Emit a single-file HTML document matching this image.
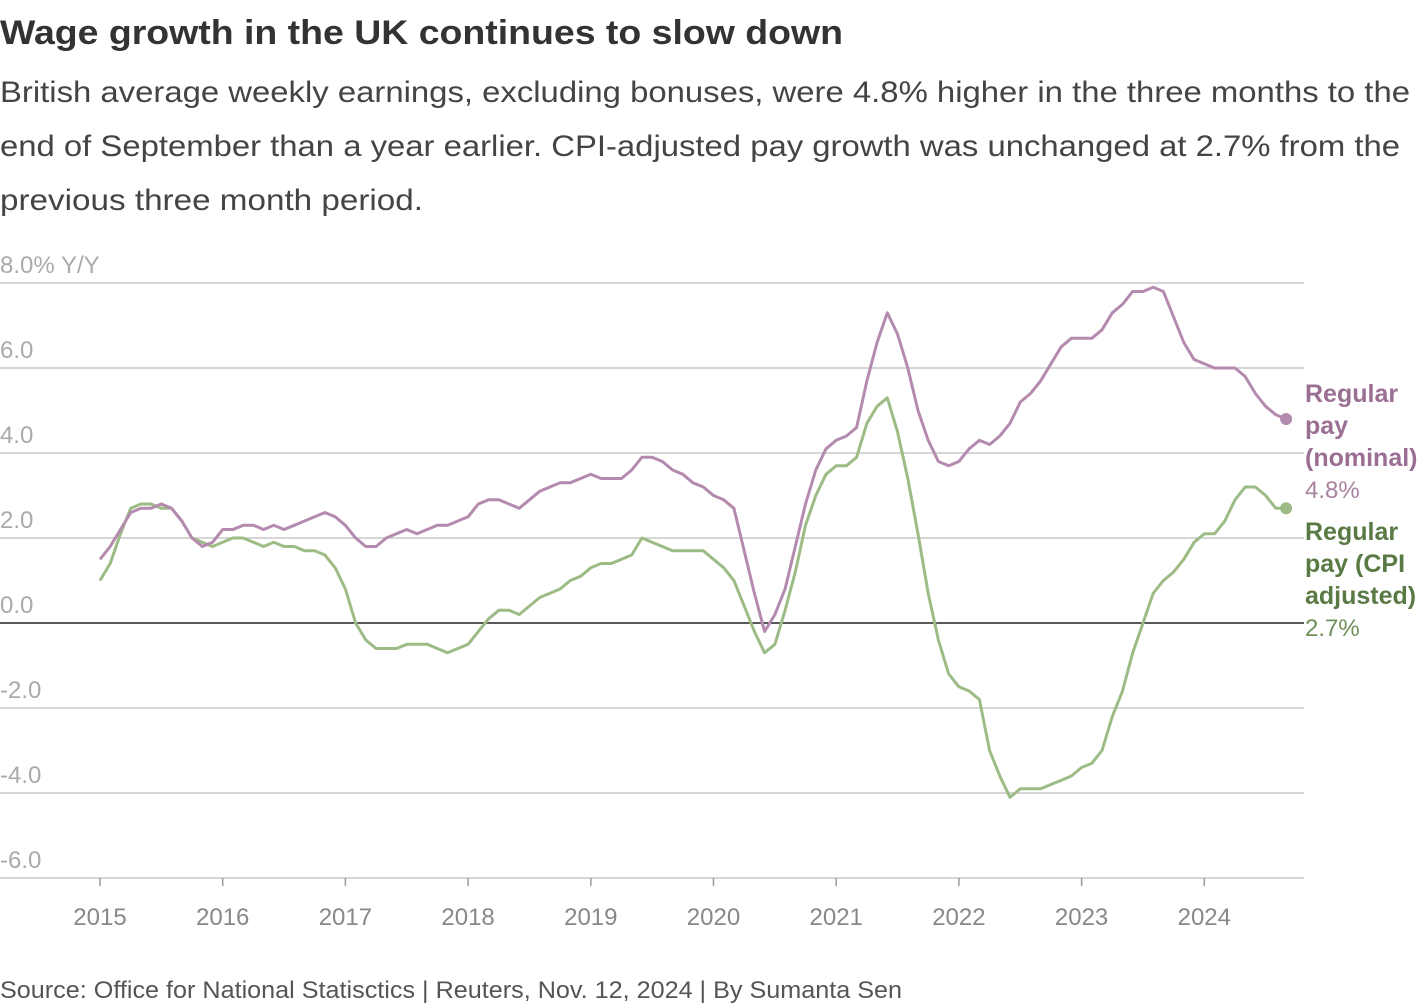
<!DOCTYPE html>
<html><head><meta charset="utf-8"><style>
body{margin:0;background:#fff;width:1420px;height:1004px;overflow:hidden;font-family:"Liberation Sans",sans-serif}
svg{position:absolute;left:0;top:0}
</style></head><body>
<svg width="1420" height="1004">
<text x="0" y="44" font-size="34" font-weight="bold" fill="#333" textLength="843" lengthAdjust="spacingAndGlyphs">Wage growth in the UK continues to slow down</text>
<g font-size="30" fill="#444">
<text x="0" y="102" textLength="1410" lengthAdjust="spacingAndGlyphs">British average weekly earnings, excluding bonuses, were 4.8% higher in the three months to the</text>
<text x="0" y="156" textLength="1400" lengthAdjust="spacingAndGlyphs">end of September than a year earlier. CPI-adjusted pay growth was unchanged at 2.7% from the</text>
<text x="0" y="210" textLength="423" lengthAdjust="spacingAndGlyphs">previous three month period.</text>
</g>
<g id="grid"></g>
<g id="xaxis"></g>
<g id="series"></g>
<g id="labels"></g>
<text x="0" y="998" font-size="24" fill="#555" textLength="902" lengthAdjust="spacingAndGlyphs">Source: Office for National Statisctics | Reuters, Nov. 12, 2024 | By Sumanta Sen</text>
</svg>
<script>
const yTicks=[8,6,4,2,0,-2,-4,-6];
const yTickLabels=["8.0% Y/Y","6.0","4.0","2.0","0.0","-2.0","-4.0","-6.0"];
const years=[2015,2016,2017,2018,2019,2020,2021,2022,2023,2024];
const nominal=[1.5,1.8,2.2,2.6,2.7,2.7,2.8,2.7,2.4,2.0,1.8,1.9,
2.2,2.2,2.3,2.3,2.2,2.3,2.2,2.3,2.4,2.5,2.6,2.5,
2.3,2.0,1.8,1.8,2.0,2.1,2.2,2.1,2.2,2.3,2.3,2.4,
2.5,2.8,2.9,2.9,2.8,2.7,2.9,3.1,3.2,3.3,3.3,3.4,
3.5,3.4,3.4,3.4,3.6,3.9,3.9,3.8,3.6,3.5,3.3,3.2,
3.0,2.9,2.7,1.7,0.7,-0.2,0.2,0.8,1.8,2.8,3.6,4.1,
4.3,4.4,4.6,5.7,6.6,7.3,6.8,6.0,5.0,4.3,3.8,3.7,
3.8,4.1,4.3,4.2,4.4,4.7,5.2,5.4,5.7,6.1,6.5,6.7,
6.7,6.7,6.9,7.3,7.5,7.8,7.8,7.9,7.8,7.2,6.6,6.2,
6.1,6.0,6.0,6.0,5.8,5.4,5.1,4.9,4.8];
const real=[1.0,1.4,2.1,2.7,2.8,2.8,2.7,2.7,2.4,2.0,1.9,1.8,
1.9,2.0,2.0,1.9,1.8,1.9,1.8,1.8,1.7,1.7,1.6,1.3,
0.8,0.0,-0.4,-0.6,-0.6,-0.6,-0.5,-0.5,-0.5,-0.6,-0.7,-0.6,
-0.5,-0.2,0.1,0.3,0.3,0.2,0.4,0.6,0.7,0.8,1.0,1.1,
1.3,1.4,1.4,1.5,1.6,2.0,1.9,1.8,1.7,1.7,1.7,1.7,
1.5,1.3,1.0,0.4,-0.2,-0.7,-0.5,0.3,1.2,2.3,3.0,3.5,
3.7,3.7,3.9,4.7,5.1,5.3,4.5,3.4,2.1,0.7,-0.4,-1.2,
-1.5,-1.6,-1.8,-3.0,-3.6,-4.1,-3.9,-3.9,-3.9,-3.8,-3.7,-3.6,
-3.4,-3.3,-3.0,-2.2,-1.6,-0.7,0.0,0.7,1.0,1.2,1.5,1.9,
2.1,2.1,2.4,2.9,3.2,3.2,3.0,2.7,2.7];
const NS="http://www.w3.org/2000/svg";
const y=v=>623-v*42.5;
const x=m=>100+m*(122.7/12);
function mk(tag,attrs,parent){const e=document.createElementNS(NS,tag);for(const k in attrs)e.setAttribute(k,attrs[k]);parent.appendChild(e);return e;}
const grid=document.getElementById('grid');
yTicks.forEach((t,i)=>{
 const l=mk('line',{x1:0,x2:1304,y1:y(t),y2:y(t),stroke:t===0?'#222':'#c8c8c8','stroke-width':1.5},grid);
 
 
 const tx=mk('text',{x:0,y:y(t)-10,'font-size':24,fill:'#aaa'},grid);
 tx.textContent=yTickLabels[i];
 
 
});
const xa=document.getElementById('xaxis');
years.forEach((yr,i)=>{
 const xx=x(i*12);
 const tk=mk('line',{x1:xx,x2:xx,y1:878,y2:886,stroke:'#999','stroke-width':1.5},xa);
 
 
 const tx=mk('text',{x:xx,y:925,'font-size':24,fill:'#888','text-anchor':'middle'},xa);
 tx.textContent=yr;
 
 
});
const sg=document.getElementById('series');
function line(data,color,name){
 const p=mk('path',{d:data.map((v,i)=>(i?'L':'M')+x(i).toFixed(1)+','+y(v).toFixed(1)).join(''),fill:'none',stroke:color,'stroke-width':3,'stroke-linejoin':'round'},sg);
 
 
 const c=mk('circle',{cx:x(data.length-1),cy:y(data[data.length-1]),r:6,fill:color},sg);
 
 
}
line(real,'#9dbc85','real-pay');
line(nominal,'#b48aae','nominal-pay');
const lg=document.getElementById('labels');
function lab(lines,val,y0,col,vcol,name){
 lines.forEach((s,i)=>{const t=mk('text',{x:1305,y:y0+i*32,'font-size':25,'font-weight':'bold',fill:col},lg);t.textContent=s;
 
 });
 const t=mk('text',{x:1305,y:y0+lines.length*32,'font-size':24,fill:vcol},lg);t.textContent=val;
 
 
}
lab(['Regular','pay','(nominal)'],nominal[nominal.length-1].toFixed(1)+'%',402,'#9b6f94','#a783a0','nominal');
lab(['Regular','pay (CPI','adjusted)'],real[real.length-1].toFixed(1)+'%',540,'#5a7a45','#6f8f5a','real');
</script>
</body></html>
